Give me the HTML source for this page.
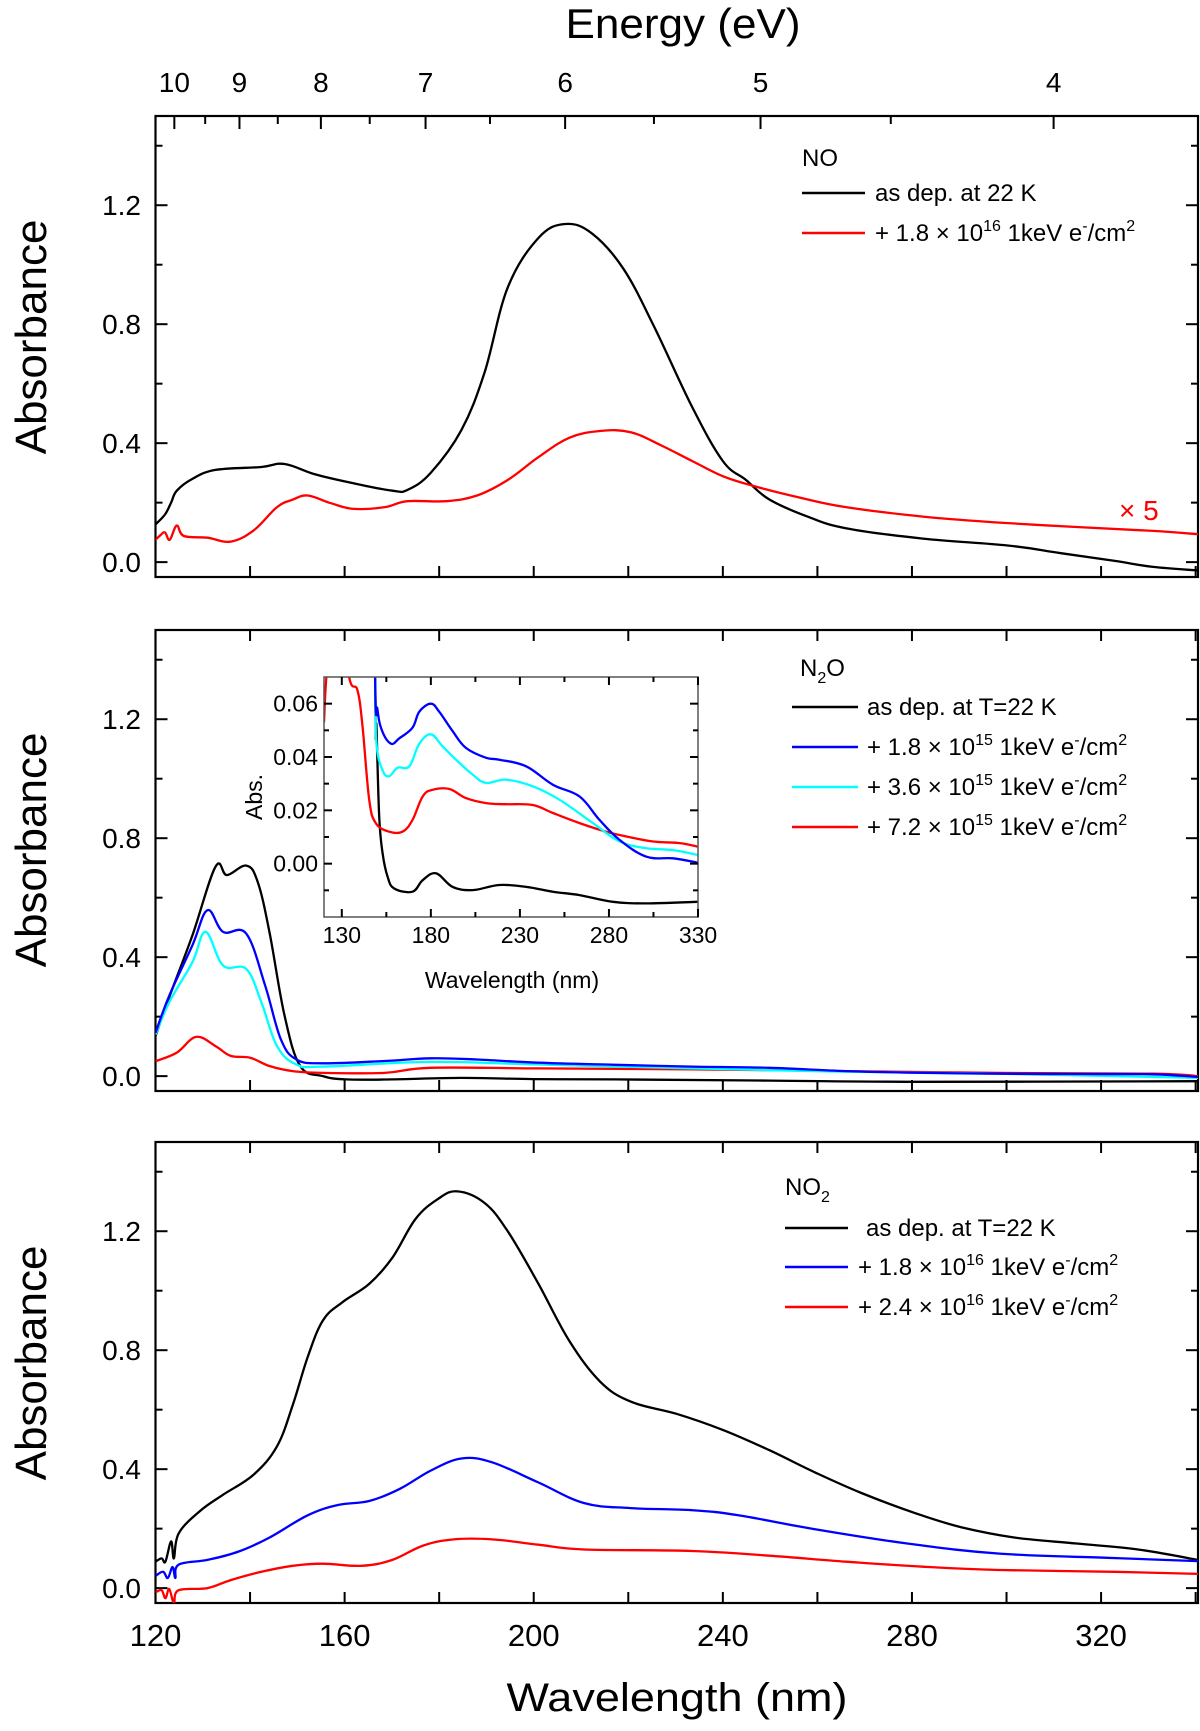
<!DOCTYPE html>
<html><head><meta charset="utf-8"><title>UV absorbance spectra of NO, N2O and NO2</title>
<style>
html,body{margin:0;padding:0;background:#fff;}
svg{display:block;font-family:"Liberation Sans",Arial,sans-serif;}
</style></head>
<body>
<svg id="fig" width="1200" height="1731" viewBox="0 0 1200 1731" xmlns="http://www.w3.org/2000/svg">
<rect width="1200" height="1731" fill="#fff"/>
<defs>
<clipPath id="clip0"><rect x="155.5" y="116" width="1042.5" height="461"/></clipPath>
<clipPath id="clip1"><rect x="155.5" y="630" width="1042.5" height="461"/></clipPath>
<clipPath id="clip2"><rect x="155.5" y="1142" width="1042.5" height="461"/></clipPath>
<clipPath id="clipInset"><rect x="324" y="677" width="374" height="240"/></clipPath>
</defs>
<text x="683" y="38" font-size="42" text-anchor="middle" textLength="235" lengthAdjust="spacingAndGlyphs">Energy (eV)</text>
<text x="677" y="1711" font-size="40" text-anchor="middle" textLength="341" lengthAdjust="spacingAndGlyphs">Wavelength (nm)</text>
<text transform="translate(46,337) rotate(-90)" font-size="44" text-anchor="middle">Absorbance</text>
<text transform="translate(46,850) rotate(-90)" font-size="44" text-anchor="middle">Absorbance</text>
<text transform="translate(46,1363) rotate(-90)" font-size="44" text-anchor="middle">Absorbance</text>
<g id="plots"></g>
<g font-size="24">
<text x="802" y="166">NO</text>
<line x1="802" y1="193" x2="865" y2="193" stroke="#000" stroke-width="2.4"/>
<text x="875" y="201">as dep. at 22 K</text>
<line x1="802" y1="233" x2="865" y2="233" stroke="#f00" stroke-width="2.4"/>
<text x="875" y="241">+ 1.8 × 10<tspan dy="-10" font-size="16">16</tspan><tspan dy="10"> 1keV e</tspan><tspan dy="-10" font-size="16">-</tspan><tspan dy="10">/cm</tspan><tspan dy="-10" font-size="16">2</tspan></text>
<text x="1119" y="520" font-size="28" fill="#f00">× 5</text>
</g>
<g font-size="24">
<text x="800" y="676">N<tspan dy="7" font-size="16">2</tspan><tspan dy="-7">O</tspan></text>
<line x1="792" y1="707" x2="858" y2="707" stroke="#000" stroke-width="2.4"/>
<text x="867" y="715">as dep. at T=22 K</text>
<line x1="792" y1="747" x2="858" y2="747" stroke="#00f" stroke-width="2.4"/>
<text x="867" y="755">+ 1.8 × 10<tspan dy="-10" font-size="16">15</tspan><tspan dy="10"> 1keV e</tspan><tspan dy="-10" font-size="16">-</tspan><tspan dy="10">/cm</tspan><tspan dy="-10" font-size="16">2</tspan></text>
<line x1="792" y1="787" x2="858" y2="787" stroke="#0ff" stroke-width="2.4"/>
<text x="867" y="795">+ 3.6 × 10<tspan dy="-10" font-size="16">15</tspan><tspan dy="10"> 1keV e</tspan><tspan dy="-10" font-size="16">-</tspan><tspan dy="10">/cm</tspan><tspan dy="-10" font-size="16">2</tspan></text>
<line x1="792" y1="827" x2="858" y2="827" stroke="#f00" stroke-width="2.4"/>
<text x="867" y="835">+ 7.2 × 10<tspan dy="-10" font-size="16">15</tspan><tspan dy="10"> 1keV e</tspan><tspan dy="-10" font-size="16">-</tspan><tspan dy="10">/cm</tspan><tspan dy="-10" font-size="16">2</tspan></text>
</g>
<g font-size="24">
<text x="785" y="1195">NO<tspan dy="7" font-size="16">2</tspan></text>
<line x1="785" y1="1228" x2="848" y2="1228" stroke="#000" stroke-width="2.4"/>
<text x="866" y="1236">as dep. at T=22 K</text>
<line x1="785" y1="1267" x2="848" y2="1267" stroke="#00f" stroke-width="2.4"/>
<text x="858" y="1275">+ 1.8 × 10<tspan dy="-10" font-size="16">16</tspan><tspan dy="10"> 1keV e</tspan><tspan dy="-10" font-size="16">-</tspan><tspan dy="10">/cm</tspan><tspan dy="-10" font-size="16">2</tspan></text>
<line x1="785" y1="1307" x2="848" y2="1307" stroke="#f00" stroke-width="2.4"/>
<text x="858" y="1315">+ 2.4 × 10<tspan dy="-10" font-size="16">16</tspan><tspan dy="10"> 1keV e</tspan><tspan dy="-10" font-size="16">-</tspan><tspan dy="10">/cm</tspan><tspan dy="-10" font-size="16">2</tspan></text>
</g>
</svg>
<script>
// ---- data (wavelength nm, absorbance) ----
const noBlackX = [120,122,123.3,124.5,127.8,132.7,142.4,147.3,153.8,161.9,170.1,173.3,178.2,184.7,189.6,194.5,201,206.7,212.4,218.9,225.4,233.5,240,244.9,249.8,257.9,266,282.3,300.2,311.5,322.9,331,340.5];
const noBlackY = [0.127,0.16,0.20,0.24,0.28,0.31,0.32,0.33,0.295,0.265,0.24,0.243,0.30,0.444,0.638,0.923,1.09,1.137,1.104,0.988,0.794,0.522,0.34,0.276,0.211,0.153,0.114,0.079,0.056,0.030,0.004,-0.016,-0.028];
const noRedX = [120,121,122,123,124.5,126,131,135.9,140.8,145.7,149,152.2,157.1,161.9,168.5,173.3,181.5,188,194.5,201,207.5,214,220.5,227,233.5,240,246.5,256.3,266,282.3,298.5,314.8,331,340.5];
const noRedY = [0.075,0.09,0.10,0.075,0.123,0.088,0.082,0.069,0.107,0.185,0.21,0.224,0.198,0.179,0.185,0.205,0.205,0.224,0.276,0.353,0.418,0.441,0.437,0.392,0.34,0.289,0.256,0.217,0.185,0.153,0.133,0.118,0.105,0.094];

const n2oBlackX = [120,122.9,127.8,132.7,135.1,139.2,141.6,144.1,147.3,150.6,155.4,160.3,170,184.7,200,217.2,249.8,282.3,340.5];
const n2oBlackY = [0.135,0.265,0.473,0.704,0.676,0.708,0.654,0.485,0.203,0.034,0,-0.011,-0.011,-0.006,-0.01,-0.011,-0.015,-0.019,-0.017];
const n2oBlueX = [120,122.9,127.8,131,134.3,139.2,143.2,146.5,149.8,155.4,168.5,178.2,188,201,217.2,233.5,249.8,266,282.3,298.5,314.8,331,340.5];
const n2oBlueY = [0.146,0.27,0.44,0.558,0.485,0.479,0.304,0.124,0.056,0.043,0.051,0.06,0.056,0.045,0.038,0.032,0.028,0.017,0.011,0.008,0.007,0.006,-0.003];
const n2oCyanX = [120,122.9,127.8,130.6,134.3,139.2,142.4,145.7,149.8,155.4,178.2,201,233.5,266,298.5,340.5];
const n2oCyanY = [0.14,0.248,0.383,0.485,0.372,0.36,0.248,0.101,0.039,0.032,0.048,0.039,0.026,0.015,0.008,-0.006];
const n2oRedX = [120,124.5,128.6,132.7,135.9,140,144.1,149,155.4,168.5,178.2,201,233.5,266,298.5,331,340.5];
const n2oRedY = [0.05,0.079,0.132,0.101,0.068,0.062,0.034,0.017,0.011,0.011,0.028,0.026,0.023,0.017,0.011,0.008,0.0];

const insetBlackX = [120,140,146,148.7,149.5,151,152.9,155.7,159.4,169.7,175.4,182.9,192.2,203.5,218.5,233.5,248.5,263.5,282.2,301,329.7];
const insetBlackY = [0.3,0.7,0.3,0.07,0.051,0.0177,0.0039,-0.0049,-0.0093,-0.0105,-0.0062,-0.0036,-0.0087,-0.0099,-0.008,-0.0087,-0.0105,-0.0118,-0.0143,-0.0149,-0.0143];
const insetBlueX = [120,140,146,148.7,150,152.5,157.6,162.3,169.7,173.5,180,184.7,192.2,199.7,211,218.5,233.5,248.5,263.5,274.7,286,301,316,329.7];
const insetBlueY = [0.2,0.5,0.2,0.07,0.058,0.050,0.045,0.047,0.051,0.057,0.060,0.057,0.0497,0.0434,0.0397,0.039,0.0365,0.0296,0.0252,0.0164,0.0089,0.0026,0.002,0.0004];
const insetCyanX = [120,140,146,148.7,149.5,152.9,156.6,161.3,167.9,173.5,180,186.6,194.1,203.5,211,222.2,237.2,252.2,271,286,301,316,329.7];
const insetCyanY = [0.2,0.4,0.2,0.07,0.045,0.035,0.0328,0.036,0.0365,0.045,0.0485,0.044,0.039,0.0334,0.0303,0.0315,0.029,0.024,0.0152,0.0083,0.0058,0.0051,0.0033];
const insetRedX = [120,122,128,134.1,138.8,141.6,145.4,149.1,156.6,164.1,169.7,175.4,181,190.4,199.7,211,222.2,237.2,248.5,263.5,278.5,289.8,304.8,319.8,329.7];
const insetRedY = [0.053,0.075,0.1,0.07,0.065,0.0516,0.024,0.0152,0.012,0.012,0.0164,0.0252,0.0277,0.028,0.0246,0.0227,0.0223,0.022,0.019,0.0152,0.012,0.0102,0.0083,0.0077,0.0064];

const no2BlackX = [120,121.3,122.1,123.3,123.9,124.9,129.4,134.3,140.8,145.7,149,152.2,155.4,159.5,165.2,170.1,175,179.8,183.9,189.6,194.5,201,207.5,214,220.5,230.2,240,249.8,259.5,269.3,280.7,290.4,301.8,314.8,327.8,340.5];
const no2BlackY = [0.089,0.10,0.089,0.157,0.10,0.184,0.259,0.314,0.382,0.477,0.614,0.777,0.9,0.961,1.023,1.111,1.241,1.309,1.334,1.295,1.2,1.023,0.832,0.695,0.627,0.586,0.532,0.464,0.389,0.32,0.252,0.205,0.17,0.15,0.13,0.095];
const no2BlueX = [120,121.6,122.6,123.6,124.2,124.9,131,137.6,144.1,152.2,158.7,165.2,171.7,178.2,184.7,191.2,201,210.7,220.5,233.5,243.3,259.5,279,298.5,321.3,340.5];
const no2BlueY = [0.041,0.055,0.034,0.071,0.034,0.079,0.095,0.123,0.17,0.245,0.28,0.293,0.334,0.395,0.436,0.423,0.355,0.286,0.269,0.262,0.245,0.198,0.15,0.116,0.102,0.091];
const no2RedX = [120,121.3,122.1,122.9,123.9,124.9,131,135.9,142.4,149,155.4,163.6,170.1,176.6,183.1,191.2,201,210.7,233.5,249.8,266,282.3,298.5,322.9,340.5];
const no2RedY = [-0.014,-0.007,-0.034,-0.003,-0.048,-0.007,0,0.027,0.055,0.075,0.082,0.075,0.095,0.143,0.164,0.164,0.146,0.13,0.125,0.109,0.089,0.072,0.061,0.055,0.048];

const yTickValues = [0,0.4,0.8,1.2];
const yTickLabels = ["0.0","0.4","0.8","1.2"];
const yMinorValues = [0.2,0.6,1.0,1.4];
const xTickValues = [120,160,200,240,280,320];
const xTickLabels = ["120","160","200","240","280","320"];
const xMinorValues = [140,180,220,260,300,340];
const energyValues = [10,9,8,7,6,5,4];
const energyLabels = ["10","9","8","7","6","5","4"];
const energyMinor = [9.5,8.5,7.5,6.5,5.5,4.5];
const insetXTicks = [130,180,230,280,330];
const insetXLabels = ["130","180","230","280","330"];
const insetXMinor = [155,205,255,305];
const insetYTicks = [0,0.02,0.04,0.06];
const insetYLabels = ["0.00","0.02","0.04","0.06"];
const insetYMinor = [-0.01,0.01,0.03,0.05];

// ---- geometry ----
const NS = "http://www.w3.org/2000/svg";
const L = 155.5, R = 1198, H = 461, X0 = 120, X1 = 340.5, YMIN = -0.05, YMAX = 1.5;
const panelTops = [116, 630, 1142];
const plots = document.getElementById('plots');
function xs(v){ return L + (v - X0) * (R - L) / (X1 - X0); }
function ysFor(top){ return function(v){ return top + (YMAX - v) * H / (YMAX - YMIN); }; }
const IL = 324, IR = 698, IT = 677, IB = 917, IX0 = 120, IX1 = 330, IY0 = -0.02, IY1 = 0.07;
function ixs(v){ return IL + (v - IX0) * (IR - IL) / (IX1 - IX0); }
function iys(v){ return IB - (v - IY0) * (IB - IT) / (IY1 - IY0); }

function el(tag, attrs, parent){
  const e = document.createElementNS(NS, tag);
  for (const k in attrs) e.setAttribute(k, attrs[k]);
  (parent || plots).appendChild(e);
  return e;
}
// smooth Catmull-Rom path through the data points
function pathD(xArr, yArr, fx, fy){
  const P = xArr.map(function(x, i){ return [fx(x), fy(yArr[i])]; });
  let d = 'M' + P[0][0].toFixed(1) + ',' + P[0][1].toFixed(1);
  const t = 0.18;
  for (let i = 0; i < P.length - 1; i++){
    const p0 = P[Math.max(0, i - 1)], p1 = P[i], p2 = P[i + 1], p3 = P[Math.min(P.length - 1, i + 2)];
    const c1x = p1[0] + (p2[0] - p0[0]) * t, c1y = p1[1] + (p2[1] - p0[1]) * t;
    const c2x = p2[0] - (p3[0] - p1[0]) * t, c2y = p2[1] - (p3[1] - p1[1]) * t;
    d += 'C' + c1x.toFixed(1) + ',' + c1y.toFixed(1) + ' ' + c2x.toFixed(1) + ',' + c2y.toFixed(1) + ' ' + p2[0].toFixed(1) + ',' + p2[1].toFixed(1);
  }
  return d;
}
function curve(xArr, yArr, fx, fy, color, clip, name){
  const p = el('path', {d: pathD(xArr, yArr, fx, fy), fill: 'none', stroke: color, 'stroke-width': 2.3, 'stroke-linejoin': 'round', 'clip-path': 'url(#' + clip + ')'});
  
  
}
function tick(x1, y1, x2, y2, name){
  const t = el('line', {x1: x1, y1: y1, x2: x2, y2: y2, stroke: '#000', 'stroke-width': 2});
  
  
}
function label(x, y, txt, size, anchor, name){
  const t = el('text', {x: x, y: y, 'font-size': size, 'text-anchor': anchor});
  t.textContent = txt;
  
  
}

// ---- panels ----
panelTops.forEach(function(top, pi){
  const ys = ysFor(top);
  const bottom = top + H;
  const frame = el('rect', {x: L, y: top, width: R - L, height: H, fill: 'none', stroke: '#000', 'stroke-width': 2.2});
  
  
  yTickValues.forEach(function(v, i){
    tick(L, ys(v), L + 12, ys(v), 'y-tick-left');
    tick(R, ys(v), R - 12, ys(v), 'y-tick-right');
    label(141, ys(v) + 10, yTickLabels[i], 28, 'end', 'y-tick-label');
  });
  yMinorValues.forEach(function(v){
    tick(L, ys(v), L + 7, ys(v), 'y-minor-tick-left');
    tick(R, ys(v), R - 7, ys(v), 'y-minor-tick-right');
  });
  xTickValues.forEach(function(v, i){
    tick(xs(v), bottom, xs(v), bottom - 11, 'x-tick-bottom');
    if (pi === 2) label(xs(v), 1646, xTickLabels[i], 31, 'middle', 'x-tick-label');
    if (pi > 0) tick(xs(v), top, xs(v), top + 11, 'x-tick-top');
  });
  xMinorValues.forEach(function(v){
    tick(xs(v), bottom, xs(v), bottom - 11, 'x-minor-tick-bottom');
    if (pi > 0) tick(xs(v), top, xs(v), top + 11, 'x-minor-tick-top');
  });
});

// energy axis on top panel
energyValues.forEach(function(e, i){
  const x = xs(1239.84 / e);
  tick(x, 116, x, 129, 'energy-tick');
  label(x, 92, energyLabels[i], 28, 'middle', 'energy-tick-label');
});
energyMinor.forEach(function(e){
  const x = xs(1239.84 / e);
  tick(x, 116, x, 124, 'energy-minor-tick');
});

// ---- series ----
const y0 = ysFor(panelTops[0]), y1 = ysFor(panelTops[1]), y2 = ysFor(panelTops[2]);
curve(noBlackX, noBlackY, xs, y0, '#000', 'clip0', 'no-as-deposited-line');
curve(noRedX, noRedY, xs, y0, '#f00', 'clip0', 'no-irradiated-line');
curve(n2oBlackX, n2oBlackY, xs, y1, '#000', 'clip1', 'n2o-as-deposited-line');
curve(n2oRedX, n2oRedY, xs, y1, '#f00', 'clip1', 'n2o-7.2e15-line');
curve(n2oCyanX, n2oCyanY, xs, y1, '#0ff', 'clip1', 'n2o-3.6e15-line');
curve(n2oBlueX, n2oBlueY, xs, y1, '#00f', 'clip1', 'n2o-1.8e15-line');
curve(no2BlackX, no2BlackY, xs, y2, '#000', 'clip2', 'no2-as-deposited-line');
curve(no2BlueX, no2BlueY, xs, y2, '#00f', 'clip2', 'no2-1.8e16-line');
curve(no2RedX, no2RedY, xs, y2, '#f00', 'clip2', 'no2-2.4e16-line');

// ---- inset ----
const ibg = el('rect', {x: IL, y: IT, width: IR - IL, height: IB - IT, fill: '#fff'});


curve(insetBlackX, insetBlackY, ixs, iys, '#000', 'clipInset', 'inset-as-deposited-line');
curve(insetRedX, insetRedY, ixs, iys, '#f00', 'clipInset', 'inset-7.2e15-line');
curve(insetCyanX, insetCyanY, ixs, iys, '#0ff', 'clipInset', 'inset-3.6e15-line');
curve(insetBlueX, insetBlueY, ixs, iys, '#00f', 'clipInset', 'inset-1.8e15-line');
const iframe = el('rect', {x: IL, y: IT, width: IR - IL, height: IB - IT, fill: 'none', stroke: '#555', 'stroke-width': 1.5});


insetXTicks.forEach(function(v, i){
  tick(ixs(v), IB, ixs(v), IB - 8, 'inset-x-tick');
  tick(ixs(v), IT, ixs(v), IT + 8, 'inset-x-tick-top');
  label(ixs(v), 943, insetXLabels[i], 23, 'middle', 'inset-x-tick-label');
});
insetXMinor.forEach(function(v){
  tick(ixs(v), IB, ixs(v), IB - 5, 'inset-x-minor-tick');
  tick(ixs(v), IT, ixs(v), IT + 5, 'inset-x-minor-tick-top');
});
insetYTicks.forEach(function(v, i){
  tick(IL, iys(v), IL + 8, iys(v), 'inset-y-tick');
  tick(IR, iys(v), IR - 8, iys(v), 'inset-y-tick-right');
  label(318, iys(v) + 8, insetYLabels[i], 23, 'end', 'inset-y-tick-label');
});
insetYMinor.forEach(function(v){
  tick(IL, iys(v), IL + 5, iys(v), 'inset-y-minor-tick');
  tick(IR, iys(v), IR - 5, iys(v), 'inset-y-minor-tick-right');
});
label(512, 988, 'Wavelength (nm)', 23, 'middle', 'inset-x-axis-title');
const ab = el('text', {transform: 'translate(262,797) rotate(-90)', 'font-size': 23, 'text-anchor': 'middle'});
ab.textContent = 'Abs.';


</script>
</body></html>
